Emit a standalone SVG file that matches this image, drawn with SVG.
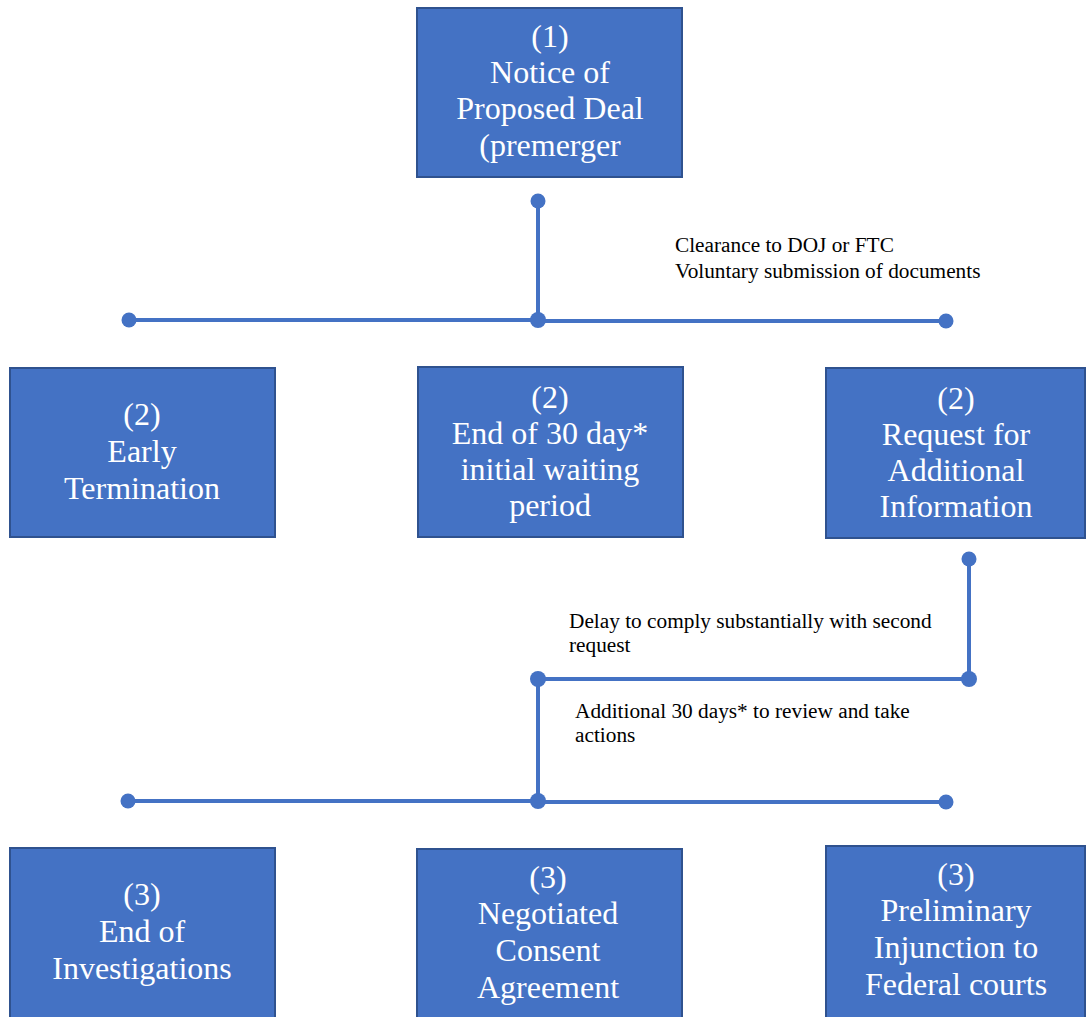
<svg xmlns="http://www.w3.org/2000/svg" width="1086" height="1017" viewBox="0 0 1086 1017">
<style>
.box{fill:#4472C4;stroke:#2F528F;stroke-width:2}
.bt{font-family:'Liberation Serif',Tinos,'Times New Roman',Times,'DejaVu Serif','Noto Serif',serif;font-size:32px;fill:#fff;text-anchor:middle}
.lt{font-family:'Liberation Serif',Tinos,'Times New Roman',Times,'DejaVu Serif','Noto Serif',serif;font-size:21.3px;fill:#000}
.ln{stroke:#4472C4;stroke-width:4;fill:none}
.dot{fill:#4472C4}
</style>
<rect width="1086" height="1017" fill="#fff"/>
<g id="connectors">
<path class="ln" d="M538 201V320M129 320H538M538 321H946"/>
<circle class="dot" cx="538" cy="201" r="7.5"/>
<circle class="dot" cx="129" cy="320" r="7.5"/>
<circle class="dot" cx="538" cy="320" r="8"/>
<circle class="dot" cx="946" cy="321" r="7.5"/>
<path class="ln" d="M969 559V679H538V801M128 801H538M538 802H946"/>
<circle class="dot" cx="969" cy="559" r="7.5"/>
<circle class="dot" cx="969" cy="679" r="8"/>
<circle class="dot" cx="538" cy="679" r="8"/>
<circle class="dot" cx="538" cy="801" r="8"/>
<circle class="dot" cx="128" cy="801" r="7.5"/>
<circle class="dot" cx="946" cy="802" r="7.5"/>
<text class="lt" x="675" y="252">Clearance to DOJ or FTC</text>
<text class="lt" x="675" y="278">Voluntary submission of documents</text>
<text class="lt" x="569" y="628">Delay to comply substantially with second</text>
<text class="lt" x="569" y="652">request</text>
<text class="lt" x="575" y="718">Additional 30 days* to review and take</text>
<text class="lt" x="575" y="742">actions</text>
</g>
<g id="n1">
<rect class="box" x="417" y="8" width="265" height="169"/>
<text class="bt" x="550" y="47">(1)</text>
<text class="bt" x="550" y="83">Notice of</text>
<text class="bt" x="550" y="119">Proposed Deal</text>
<text class="bt" x="550" y="156">(premerger</text>
</g>
<g id="n2a">
<rect class="box" x="10" y="368" width="265" height="169"/>
<text class="bt" x="142" y="425">(2)</text>
<text class="bt" x="142" y="462">Early</text>
<text class="bt" x="142" y="499">Termination</text>
</g>
<g id="n2b">
<rect class="box" x="418" y="367" width="265" height="170"/>
<text class="bt" x="550" y="408">(2)</text>
<text class="bt" x="550" y="444">End of 30 day*</text>
<text class="bt" x="550" y="480">initial waiting</text>
<text class="bt" x="550" y="516">period</text>
</g>
<g id="n2c">
<rect class="box" x="826" y="368" width="259" height="170"/>
<text class="bt" x="956" y="409">(2)</text>
<text class="bt" x="956" y="445">Request for</text>
<text class="bt" x="956" y="481">Additional</text>
<text class="bt" x="956" y="517">Information</text>
</g>
<g id="n3a">
<rect class="box" x="10" y="848" width="265" height="172"/>
<text class="bt" x="142" y="905">(3)</text>
<text class="bt" x="142" y="942">End of</text>
<text class="bt" x="142" y="979">Investigations</text>
</g>
<g id="n3b">
<rect class="box" x="417" y="849" width="265" height="171"/>
<text class="bt" x="548" y="888">(3)</text>
<text class="bt" x="548" y="924">Negotiated</text>
<text class="bt" x="548" y="961">Consent</text>
<text class="bt" x="548" y="998">Agreement</text>
</g>
<g id="n3c">
<rect class="box" x="826" y="846" width="259" height="174"/>
<text class="bt" x="956" y="885">(3)</text>
<text class="bt" x="956" y="921">Preliminary</text>
<text class="bt" x="956" y="958">Injunction to</text>
<text class="bt" x="956" y="995">Federal courts</text>
</g>
</svg>
